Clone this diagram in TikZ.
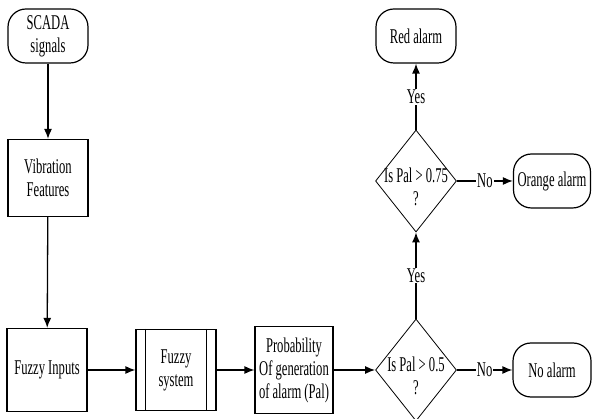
\documentclass[tikz,border=0pt]{standalone}
\usepackage{fontspec}
\setmainfont{Liberation Serif}[FakeStretch=0.6]
\usetikzlibrary{shapes.geometric,arrows.meta}

\begin{document}
\begin{tikzpicture}[x=1pt,y=-1pt,
  every node/.style={font=\fontsize{21}{23}\selectfont},
  term/.style={draw,line width=1.2pt,rounded corners=18pt,minimum width=80pt,minimum height=54pt,inner sep=0pt,align=center},
  bloc/.style={draw,line width=1.2pt,minimum width=80pt,inner sep=0pt,align=center},
  test/.style={draw,diamond,line width=0.8pt,minimum width=81pt,minimum height=102pt,inner sep=0pt},
  fleche/.style={line width=1.3pt,-{Latex[length=10pt,width=8pt]}},
  rep/.style={fill=white,inner sep=1pt}]
\useasboundingbox (0,0) rectangle (592,419);

%colonne de gauche
\node[term] (scada) at (48,36) {SCADA\\signals};
\node[bloc,minimum height=77pt] (vib) at (48,178) {Vibration\\Features};
\node[bloc,minimum height=83pt] (fin) at (47,370) {Fuzzy Inputs};

%systeme flou
\node[bloc,minimum height=81pt] (fsys) at (176,370) {Fuzzy\\system};
\draw[line width=1pt] ([xshift=10pt]fsys.north west) -- ([xshift=10pt]fsys.south west);
\draw[line width=1pt] ([xshift=-10pt]fsys.north east) -- ([xshift=-10pt]fsys.south east);
\node[bloc,minimum width=78pt,minimum height=87pt] (prob) at (294,370) {Probability\\Of generation\\of alarm (Pal)};

%tests
\node[test,label={[align=center,yshift=-6pt]center:Is Pal > 0.5\\?}] (d1) at (416,370) {};
\node[test,label={[align=center,yshift=-6pt]center:Is Pal > 0.75\\?}] (d2) at (416,181) {};

%alarmes
\node[term] (red) at (416,36) {Red alarm};
\node[term,minimum width=77pt] (orange) at (552,181) {Orange alarm};
\node[term,minimum width=78pt] (noal) at (552,370) {No alarm};

%fleches
\draw[fleche] (scada) -- (vib);
\draw[fleche] (vib) -- (fin);
\draw[fleche] (fin) -- (fsys);
\draw[fleche] (fsys) -- (prob);
\draw[fleche] (prob) -- (d1.west);
\draw[fleche] (d1.east) -- node[rep]{No} (noal);
\draw[fleche] (d1.north) -- node[rep]{Yes} (d2.south);
\draw[fleche] (d2.east) -- node[rep]{No} (orange);
\draw[fleche] (d2.north) -- node[rep]{Yes} (red);

\end{tikzpicture}
\end{document}
